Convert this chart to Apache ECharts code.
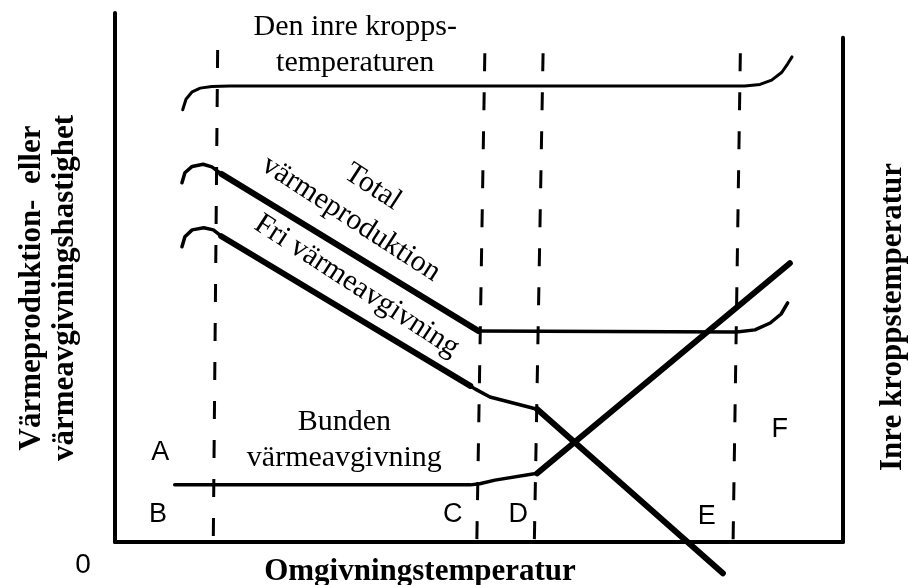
<!doctype html>
<html>
<head>
<meta charset="utf-8">
<title>Värmeproduktion och omgivningstemperatur</title>
<script src="https://cdn.jsdelivr.net/npm/echarts@6/dist/echarts.min.js"></script>
</head>
<body style="margin:0;background:#fff">
<div id="main" style="width:910px;height:585px;"></div>
<script>
// schematic curves, x = ambient temperature (0-100), y = rate (0-100)
var bodyTemp = [[9.3,81.7],[9.75,83.7],[10.6,85.1],[11.7,85.8],[13.3,86.1],[15.8,86.2],
                [86.5,86.2],[88.6,86.5],[90.2,87.3],[91.6,88.8],[92.4,90.4],[93.0,91.7]];
var totalHook = [[9.2,67.9],[9.6,69.8],[10.6,71.0],[12.1,71.4],[13.3,70.9],[14.6,69.6]];
var totalSlope = [[14.6,69.6],[49.9,39.9]];
var totalFlat = [[49.9,39.9],[85.4,39.7],[87.9,40.1],[90.0,41.4],[91.5,43.1],[92.4,45.2]];
var freeHook = [[9.2,55.8],[9.6,57.7],[10.6,59.0],[12.2,59.4],[13.5,59.0],[14.6,57.8]];
var freeSlope = [[14.6,57.8],[48.8,29.5]];
var freeBend = [[48.8,29.5],[49.5,28.9],[51.5,27.4],[58.0,25.1]];
var freeDrop = [[58.0,25.1],[83.5,-5.9]];
var boundFlat = [[8.2,10.8],[48.8,10.8],[50.1,11.0],[52.2,11.7],[58.0,13.0]];
var boundRise = [[58.0,13.0],[92.7,52.7]];

// zone borders (dashed), top and bottom points
var zoneBorders = [
  [[14.1,93.0],[13.5,0]],
  [[50.8,92.4],[49.7,0]],
  [[58.8,92.4],[57.6,0]],
  [[85.9,92.4],[84.9,0]]
];
var rightFrame = [[100,95.3],[100,0]];

var curveLabels = ['Den inre kropps-','temperaturen','Total','värmeproduktion','Fri värmeavgivning','Bunden','värmeavgivning'];
var curveLabelPos = [[33,97.4],[33,90.5],[35.4,67.1],[32.4,61.1],[33.2,48.4],[31.5,22.7],[31.5,15.9]];
var curveLabelRot = [0,0,-33,-33,-33,0,0];

var zoneLetters = ['A','B','C','D','E','F'];
var zoneLetterPos = [[6.2,17.0],[5.9,5.1],[46.4,5.1],[55.4,5.1],[81.3,4.9],[91.3,21.2]];

var serif = "'Liberation Serif','Times New Roman',serif";
var sans = "'Liberation Sans',Arial,sans-serif";

function curve(data, width, dash) {
  return {
    type: 'line',
    data: data,
    symbol: 'none',
    silent: true,
    clip: false,
    lineStyle: {
      color: '#000',
      width: width,
      type: dash ? [18, 21] : 'solid',
      cap: dash ? 'butt' : 'round',
      join: 'round'
    }
  };
}

var series = [];
zoneBorders.forEach(function (d) { series.push(curve(d, 3, true)); });
series.push(curve(rightFrame, 4));
series.push(curve(bodyTemp, 3));
series.push(curve(totalHook, 3.5));
series.push(curve(totalSlope, 6));
series.push(curve(totalFlat, 3.5));
series.push(curve(freeHook, 3.5));
series.push(curve(freeSlope, 6));
series.push(curve(freeBend, 3.5));
series.push(curve(freeDrop, 6));
series.push(curve(boundFlat, 3.5));
series.push(curve(boundRise, 6));

var labelData = curveLabels.map(function (t, i) {
  return {
    value: curveLabelPos[i],
    label: { formatter: t, rotate: curveLabelRot[i], fontFamily: serif, fontSize: 30 }
  };
}).concat(zoneLetters.map(function (t, i) {
  return {
    value: zoneLetterPos[i],
    label: { formatter: t, rotate: 0, fontFamily: sans, fontSize: 27 }
  };
}));

series.push({
  type: 'scatter',
  data: labelData,
  symbolSize: 1,
  silent: true,
  itemStyle: { color: 'rgba(0,0,0,0)', opacity: 1 },
  label: {
    show: true, position: 'inside', align: 'center', verticalAlign: 'middle',
    color: '#000', opacity: 1, textBorderWidth: 0
  }
});

function txt(s, x, y, font, rot) {
  return {
    type: 'text', x: x, y: y, rotation: rot || 0, silent: true,
    style: { text: s, font: font, fill: '#000', align: 'center', verticalAlign: 'middle',
             textAlign: 'center', textVerticalAlign: 'middle' }
  };
}

var option = {
  animation: false,
  backgroundColor: '#fff',
  grid: { left: 115, right: 67, top: 13, bottom: 43 },
  xAxis: {
    type: 'value', min: 0, max: 100,
    axisLine: { show: true, onZero: false, lineStyle: { color: '#000', width: 4 } },
    axisTick: { show: false }, axisLabel: { show: false }, splitLine: { show: false }
  },
  yAxis: {
    type: 'value', min: 0, max: 100,
    axisLine: { show: true, onZero: false, lineStyle: { color: '#000', width: 4 } },
    axisTick: { show: false }, axisLabel: { show: false }, splitLine: { show: false }
  },
  graphic: [
    txt('0', 83, 565, '28px ' + sans),
    txt('Omgivningstemperatur', 420, 572, 'bold 31px ' + serif),
    txt('Värmeproduktion-  eller', 32, 288, 'bold 31px ' + serif, Math.PI / 2),
    txt('värmeavgivningshastighet', 65, 288, 'bold 31px ' + serif, Math.PI / 2),
    txt('Inre kroppstemperatur', 893, 317, 'bold 31px ' + serif, Math.PI / 2)
  ],
  series: series
};

var myChart = echarts.init(document.getElementById('main'));
myChart.setOption(option);
</script>
</body>
</html>
